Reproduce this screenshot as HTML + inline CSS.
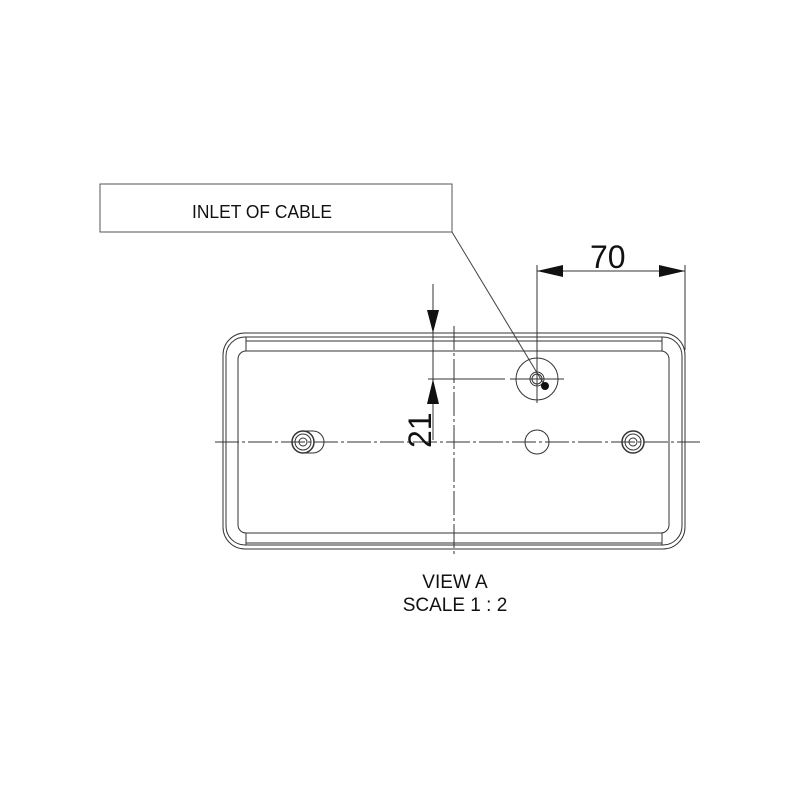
<!DOCTYPE html>
<html><head><meta charset="utf-8"><style>
html,body{margin:0;padding:0;background:#fff;}
svg{display:block}
text{font-family:"Liberation Sans Narrow","Liberation Sans",sans-serif;fill:#111}
</style></head><body>
<svg width="800" height="800" viewBox="0 0 800 800" xmlns="http://www.w3.org/2000/svg">
<rect width="800" height="800" fill="#fff"/>
<g fill="none" stroke="#333" stroke-width="1">
<!-- label box -->
<rect x="100" y="184" width="352" height="48" stroke="#555"/>
<line x1="452" y1="232" x2="545" y2="386" stroke="#444"/>
<!-- housing outlines -->
<rect x="223" y="333" width="462" height="216" rx="22"/>
<rect x="226" y="337" width="456" height="208" rx="19"/>
<line x1="246" y1="341" x2="662" y2="341"/>
<line x1="246" y1="543" x2="662" y2="543"/>
<rect x="238" y="351" width="431" height="182" rx="8"/>
<line x1="246" y1="337" x2="246" y2="351"/>
<line x1="662" y1="337" x2="662" y2="351"/>
<line x1="246" y1="533" x2="246" y2="545"/>
<line x1="662" y1="533" x2="662" y2="545"/>
<!-- centre lines -->
<line x1="215" y1="442" x2="700" y2="442" stroke-dasharray="24,3,3,3"/>
<line x1="454" y1="326" x2="454" y2="557" stroke-dasharray="24,3,3,3"/>
<!-- cable inlet -->
<circle cx="537" cy="379" r="21"/>
<circle cx="537" cy="379" r="7"/>
<circle cx="537" cy="379" r="5"/>
<line x1="510" y1="379" x2="564" y2="379"/>
<line x1="537" y1="355" x2="537" y2="403"/>
<!-- hole -->
<circle cx="537" cy="442" r="12"/>
<!-- screws -->
<path d="M303 431 H313 A11 11 0 0 1 313 453 H303"/>
<circle cx="303" cy="442" r="11" stroke-width="1.5"/>
<circle cx="303" cy="442" r="8"/>
<circle cx="303" cy="442" r="4"/>
<circle cx="633" cy="442" r="11" stroke-width="1.5"/>
<circle cx="633" cy="442" r="8"/>
<circle cx="633" cy="442" r="4"/>
<!-- dim 21 -->
<line x1="433" y1="284" x2="433" y2="440"/>
<line x1="428" y1="379" x2="505" y2="379"/>
<!-- dim 70 -->
<line x1="537" y1="265" x2="537" y2="360"/>
<line x1="685" y1="265" x2="685" y2="350"/>
<line x1="537" y1="271" x2="685" y2="271"/>
</g>
<circle cx="545" cy="386" r="4" fill="#111"/>
<g fill="#111">
<polygon points="433,333 427,310 439,310"/>
<polygon points="433,379 427,404 439,404"/>
<polygon points="537,271 563,265 563,277"/>
<polygon points="685,271 659,265 659,277"/>
</g>
<text x="192" y="218" font-size="18" textLength="140" lengthAdjust="spacingAndGlyphs">INLET OF CABLE</text>
<text x="590" y="268" font-size="32">70</text>
<text transform="translate(431,448) rotate(-90)" font-size="32">21</text>
<text x="455" y="588" font-size="19" text-anchor="middle">VIEW A</text>
<text x="455" y="611" font-size="19" text-anchor="middle">SCALE 1 : 2</text>
</svg>
</body></html>
